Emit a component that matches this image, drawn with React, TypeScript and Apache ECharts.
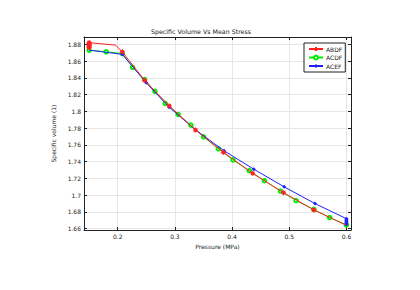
import React, { useEffect, useRef } from "react";
import * as echarts from "echarts";

const titleText = "Specific Volume Vs Mean Stress";
const xName = "Pressure (MPa)";
const yName = "Specific volume (1)";
const xTicks = [0.2, 0.3, 0.4, 0.5, 0.6];
const yTicks = [1.66, 1.68, 1.7, 1.72, 1.74, 1.76, 1.78, 1.8, 1.82, 1.84, 1.86, 1.88];

// ABDF (red)
const abdfX = [0.15, 0.15, 0.15, 0.15, 0.15, 0.15, 0.15, 0.196, 0.208, 0.247, 0.29, 0.336, 0.385, 0.436, 0.49, 0.543, 0.6];
const abdfY = [1.876, 1.877, 1.878, 1.879, 1.88, 1.881, 1.882, 1.879, 1.871, 1.837, 1.8066, 1.7777, 1.7511, 1.7261, 1.703, 1.6825, 1.664];
const abdfMarked = [1, 1, 1, 1, 1, 1, 1, 0, 1, 1, 1, 1, 1, 1, 1, 1, 0];

// ACDF (green)
const acdfX = [0.15, 0.18, 0.208, 0.226, 0.247, 0.265, 0.283, 0.3056, 0.328, 0.35, 0.376, 0.4017, 0.43, 0.4565, 0.4845, 0.512, 0.543, 0.5706, 0.6];
const acdfY = [1.873, 1.871, 1.869, 1.8526, 1.838, 1.824, 1.8094, 1.7963, 1.7836, 1.7697, 1.7554, 1.742, 1.7292, 1.7173, 1.705, 1.6935, 1.683, 1.6733, 1.6646];

// ACEF (blue)
const acefX = [0.15, 0.208, 0.25, 0.29, 0.336, 0.386, 0.438, 0.491, 0.545, 0.6, 0.6, 0.6, 0.6, 0.6, 0.6, 0.6, 0.6];
const acefY = [1.873, 1.868, 1.834, 1.805, 1.778, 1.753, 1.731, 1.71, 1.69, 1.672, 1.671, 1.67, 1.669, 1.668, 1.667, 1.666, 1.665];
const acefMarked = [0, 1, 1, 1, 1, 1, 1, 1, 1, 1, 1, 1, 1, 1, 1, 1, 1];

const FONT = "DejaVu Sans";
const STAR = "path://M0,5L10,5M5,0L5,10M1.5,1.5L8.5,8.5M1.5,8.5L8.5,1.5";

export default function App() {
  const ref = useRef<HTMLDivElement>(null);
  useEffect(() => {
    if (!ref.current) return;
    const chart = echarts.init(ref.current, null, { renderer: "svg" });
    const axisLine = { show: true, lineStyle: { color: "#222", width: 1 } };
    const splitLine = { show: true, lineStyle: { color: "#e6e6e6", width: 1 } };
    const xBase = { type: "value", min: 0.141, max: 0.608, axisLine, splitLine: { show: false } };
    const yBase = { type: "value", min: 1.6585, max: 1.8887, axisLine, splitLine: { show: false } };
    chart.setOption({
      animation: false,
      backgroundColor: "#fff",
      textStyle: { fontFamily: FONT },
      grid: { left: 84, right: 69, top: 37, bottom: 60, containLabel: false },
      graphic: [
        {
          type: "text",
          x: 201,
          y: 31,
          style: { text: titleText, font: `6.3px "${FONT}"`, fill: "#222", textAlign: "center", textVerticalAlign: "middle" },
        },
      ],
      legend: {
        orient: "vertical",
        left: 304,
        top: 43,
        backgroundColor: "#fff",
        borderColor: "#222",
        borderWidth: 1,
        borderRadius: 0,
        padding: [3, 3, 3, 4],
        itemGap: 2.5,
        itemWidth: 14,
        itemHeight: 5,
        textStyle: { fontSize: 6, color: "#222", fontFamily: FONT, padding: [0, 0, 0, -2] },
        data: ["ABDF", "ACDF", "ACEF"],
      },
      xAxis: [
        {
          ...xBase,
          position: "bottom",
          name: xName,
          nameLocation: "middle",
          nameGap: 11,
          nameTextStyle: { fontSize: 6, color: "#222", fontFamily: FONT },
          axisTick: { show: true, inside: true, length: 3, customValues: xTicks, lineStyle: { color: "#222" } },
          axisLabel: { show: true, customValues: xTicks, fontSize: 6, color: "#222", margin: 3, fontFamily: FONT },
          splitLine: { ...splitLine },
        },
        {
          ...xBase,
          position: "top",
          axisTick: { show: true, inside: true, length: 3, customValues: xTicks, lineStyle: { color: "#222" } },
          axisLabel: { show: false, customValues: xTicks },
        },
      ],
      yAxis: [
        {
          ...yBase,
          position: "left",
          name: yName,
          nameLocation: "middle",
          nameGap: 24,
          nameRotate: 90,
          nameTextStyle: { fontSize: 6, color: "#222", fontFamily: FONT },
          axisTick: { show: true, inside: true, length: 3, customValues: yTicks, lineStyle: { color: "#222" } },
          axisLabel: { show: true, customValues: yTicks, fontSize: 6, color: "#222", margin: 3, fontFamily: FONT },
          splitLine: { ...splitLine },
        },
        {
          ...yBase,
          position: "right",
          axisTick: { show: true, inside: true, length: 3, customValues: yTicks, lineStyle: { color: "#222" } },
          axisLabel: { show: false, customValues: yTicks },
        },
      ],
      series: [
        {
          name: "ACDF",
          type: "line",
          data: acdfX.map((x, i) => [x, acdfY[i]]),
          symbol: "emptyCircle",
          symbolSize: 3.5,
          lineStyle: { color: "#00ee00", width: 1 },
          itemStyle: { color: "#00ee00", borderColor: "#00ee00", borderWidth: 0.9 },
          z: 2,
        },
        {
          name: "ACEF",
          type: "line",
          data: acefX.map((x, i) => ({ value: [x, acefY[i]], symbol: acefMarked[i] ? "diamond" : "none" })),
          symbol: "diamond",
          symbolSize: 4,
          lineStyle: { color: "#2020ff", width: 1 },
          itemStyle: { color: "#2020ff" },
          z: 3,
        },
        {
          name: "ABDF",
          type: "line",
          data: abdfX.map((x, i) => ({ value: [x, abdfY[i]], symbol: abdfMarked[i] ? STAR : "none" })),
          symbol: STAR,
          symbolSize: 5,
          lineStyle: { color: "#ff2020", width: 1 },
          itemStyle: { color: "transparent", borderColor: "#ff2020", borderWidth: 1.1 },
          z: 4,
        },
      ],
    });
    return () => chart.dispose();
  }, []);
  return <div ref={ref} style={{ position: "fixed", left: 0, top: 0, width: 420, height: 290 }} />;
}
